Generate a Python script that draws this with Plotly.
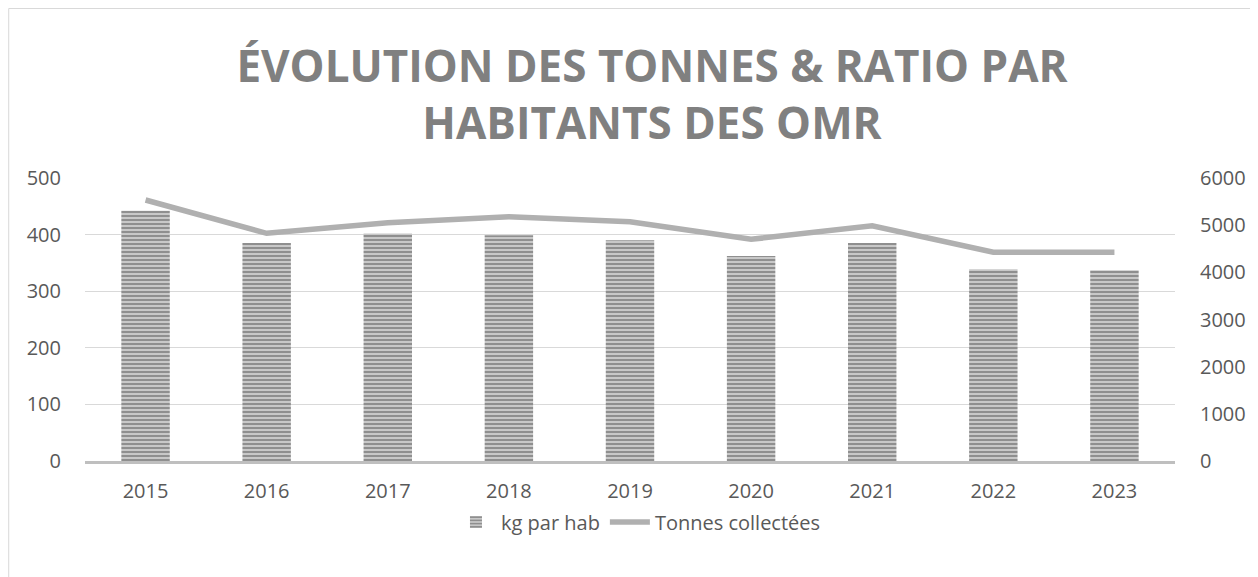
import plotly.graph_objects as go

annees = ['2015', '2016', '2017', '2018', '2019', '2020', '2021', '2022', '2023']
kg_par_hab = [442, 385, 402, 399, 390, 362, 385, 339, 337]
tonnes_collectees = [5534, 4827, 5052, 5180, 5074, 4700, 4988, 4425, 4425]

gris_texte = '#595959'
gris_grille = '#d9d9d9'

# la page a une marge de 8 px : zone de tracé à x 85-1178, y 178-461 à l'écran
fig = go.Figure(
    [
        go.Bar(
            name='kg par hab',
            x=annees,
            y=kg_par_hab,
            marker=dict(
                color='#c8c8c8',
                line=dict(width=0),
                pattern=dict(
                    shape='-',
                    size=4,
                    solidity=0.5,
                    fgcolor='#555555',
                    bgcolor='#c8c8c8',
                    fillmode='overlay',
                ),
            ),
            yaxis='y',
        ),
        go.Scatter(
            name='Tonnes collectées',
            x=annees,
            y=tonnes_collectees,
            mode='lines',
            line=dict(color='#b0b0b0', width=5.5),
            yaxis='y2',
        ),
    ]
)

fig.update_layout(
    width=1250,
    height=569,
    paper_bgcolor='white',
    plot_bgcolor='white',
    margin={'l': 77, 'r': 80, 't': 170, 'b': 116},
    bargap=0.6,
    font=dict(family='Open Sans', size=20, color=gris_texte),
    title=dict(
        text='<b>ÉVOLUTION DES TONNES & RATIO PAR<br>HABITANTS DES OMR</b>',
        x=(652 - 8) / 1250,
        xanchor='center',
        xref='container',
        y=1 - (82 - 8) / 569,
        yanchor='middle',
        yref='container',
        font=dict(family='Open Sans', size=44, color='#808080'),
    ),
    xaxis=dict(
        showgrid=False,
        showline=True,
        linecolor='#bfbfbf',
        linewidth=3,
        ticks='',
        ticklabelstandoff=10,
        tickfont=dict(size=20, color=gris_texte),
    ),
    yaxis=dict(
        range=[0, 500],
        dtick=100,
        showgrid=True,
        gridcolor=gris_grille,
        gridwidth=1,
        zeroline=False,
        showline=False,
        ticks='',
        ticklabelstandoff=23,
        tickfont=dict(size=20, color=gris_texte),
    ),
    yaxis2=dict(
        range=[0, 6000],
        dtick=1000,
        overlaying='y',
        side='right',
        showgrid=False,
        zeroline=False,
        showline=False,
        ticks='',
        ticklabelstandoff=24,
        tickfont=dict(size=20, color=gris_texte),
    ),
    legend=dict(
        orientation='h',
        x=(640 - 85) / 1093,
        xanchor='center',
        y=(461 - 522) / 283,
        yanchor='middle',
        font=dict(size=20, color=gris_texte),
        itemwidth=40,
    ),
    showlegend=True,
    shapes=[
        dict(
            type='rect',
            xref='paper',
            yref='paper',
            x0=(8.5 - 85) / 1093,
            x1=(1275 - 85) / 1093,
            y0=(461 - 600) / 283,
            y1=(461 - 8.5) / 283,
            line=dict(color=gris_grille, width=1),
            fillcolor='rgba(0,0,0,0)',
            layer='below',
        )
    ],
)

fig.write_html('out.html')
